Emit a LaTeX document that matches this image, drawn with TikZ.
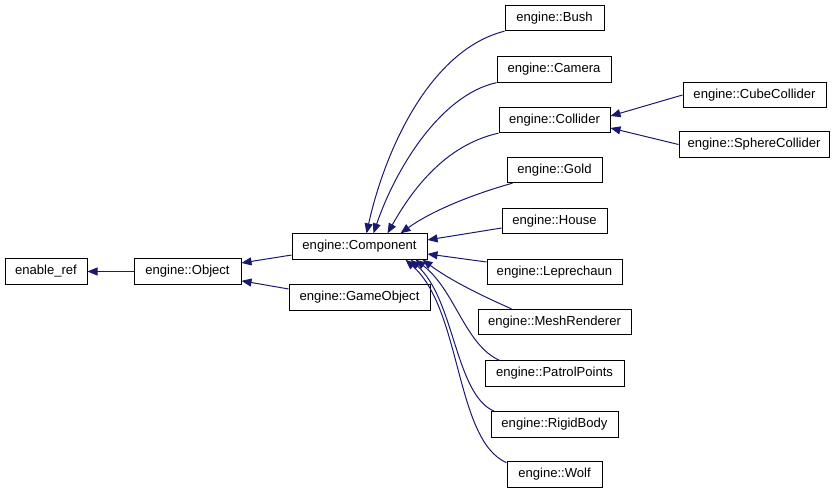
\documentclass[tikz,border=0pt]{standalone}
\usepackage{fontspec}
\setmainfont{Liberation Sans}
\usetikzlibrary{arrows.meta}
\definecolor{edgeblue}{HTML}{191970}
\begin{document}
\begin{tikzpicture}[x=.75pt,y=-.75pt,font=\fontsize{9.8}{11}\selectfont,
  cls/.style={draw=black,line width=.75pt,fill=white,inner sep=0pt,minimum height=19pt},
  inh/.style={draw=edgeblue,line width=.75pt,-{Triangle[length=7.5pt,width=6pt,fill=edgeblue]}}]
\useasboundingbox (0,0) rectangle (836,493);
\node[cls,minimum width=61.5pt] (eref) at (46,271.5) {enable\_ref};
\node[cls,minimum width=80.25pt] (obj) at (187.5,271.5) {engine::Object};
\node[cls,minimum width=101.25pt] (cmp) at (359.5,246.5) {engine::Component};
\node[cls,minimum width=105.75pt] (gobj) at (359.5,297.5) {engine::GameObject};
\node[cls,minimum width=74.25pt] (bush) at (554.5,18) {engine::Bush};
\node[cls,minimum width=85.5pt] (cam) at (554,69.5) {engine::Camera};
\node[cls,minimum width=83.25pt] (coll) at (554.5,120) {engine::Collider};
\node[cls,minimum width=107.25pt] (cube) at (754.5,95) {engine::CubeCollider};
\node[cls,minimum width=112.5pt] (sph) at (754,144.5) {engine::SphereCollider};
\node[cls,minimum width=71.25pt] (gold) at (554.5,170) {engine::Gold};
\node[cls,minimum width=78.75pt] (house) at (554.5,221) {engine::House};
\node[cls,minimum width=101.25pt] (lep) at (554.5,272) {engine::Leprechaun};
\node[cls,minimum width=114.75pt] (mesh) at (554.5,322) {engine::MeshRenderer};
\node[cls,minimum width=104.25pt] (patrol) at (554.5,373.5) {engine::PatrolPoints};
\node[cls,minimum width=95.25pt] (rigid) at (554.5,424.5) {engine::RigidBody};
\node[cls,minimum width=71.25pt] (wolf) at (554.5,474.5) {engine::Wolf};
\draw[inh] (obj.west) -- (eref.east);
\draw[inh] ([yshift=-6.4pt]cmp.west) -- ([yshift=6.4pt]obj.east);
\draw[inh] ([yshift=6.4pt]gobj.west) -- ([yshift=-7pt]obj.east);
\draw[inh] (bush.south west) .. controls (430,50) and (385,150) .. ([xshift=56.25pt]cmp.north west);
\draw[inh] (cam.south west) .. controls (440,95) and (395,170) .. ([xshift=61.5pt]cmp.north west);
\draw[inh] (coll.south west) .. controls (445,145) and (412,190) .. ([xshift=72pt]cmp.north west);
\draw[inh] ([xshift=4.5pt]gold.south west) .. controls (470,195) and (430,212) .. ([xshift=81.75pt]cmp.north west);
\draw[inh] ([yshift=-5.25pt]house.west) -- ([yshift=4.9pt]cmp.east);
\draw[inh] ([yshift=7.5pt]lep.west) -- ([yshift=-5.6pt]cmp.east);
\draw[inh] ([xshift=25.5pt]mesh.north west) .. controls (480,295) and (450,280) .. ([xshift=98.25pt]cmp.south west);
\draw[inh] ([xshift=11.25pt]patrol.north west) .. controls (465,345) and (455,290) .. ([xshift=93pt]cmp.south west);
\draw[inh] ([xshift=3pt]rigid.north west) .. controls (455,395) and (455,300) .. ([xshift=89.25pt]cmp.south west);
\draw[inh] ([yshift=-1pt]wolf.north west) .. controls (455,440) and (462,310) .. ([xshift=85.5pt]cmp.south west);
\draw[inh] (cube.west) -- ([yshift=3pt]coll.east);
\draw[inh] (sph.west) -- ([yshift=-6pt]coll.east);
\end{tikzpicture}
\end{document}
